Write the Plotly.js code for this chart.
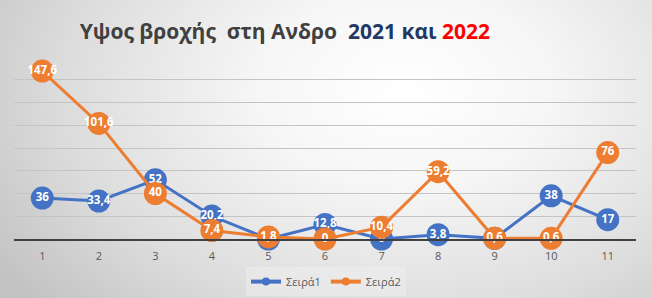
<!DOCTYPE html>
<html>
<head>
<meta charset="utf-8">
<script src="https://cdn.plot.ly/plotly-3.0.1.min.js"></script>
<style>
html,body{margin:0;padding:0;}
#chart{width:652px;height:298px;background:radial-gradient(ellipse 75% 110% at 62% 30%, #ffffff 0%, #f6f6f6 30%, #dcdcdc 70%, #c2c2c2 100%);}
</style>
</head>
<body>
<div id="chart"></div>
<script>
const categories = ["1","2","3","4","5","6","7","8","9","10","11"];
const xPos = [1,2,3,4,5,6,7,8,9,10,11];
const seriesNames = ["Σειρά1","Σειρά2"];
const series1 = [36, 33.4, 52, 20.2, 0, 12.8, 0, 3.8, 0.6, 38, 17];
const series2 = [147.6, 101.6, 40, 7.4, 1.8, 0, 10.4, 59.2, 0.6, 0.6, 76];
const colors = ["#4472C4", "#ED7D31"];

function fmt(v){ return String(v).replace('.', ','); }

const font = "'Open Sans', 'Noto Sans', sans-serif";

function mk(name, ys, color){
  return {
    type:'scatter', mode:'lines+markers+text', name:name, showlegend:false,
    x:xPos, y:ys, text:ys.map(fmt),
    textposition:'middle center',
    textfont:{color:'#ffffff', size:11.5, family:font, weight:'bold'},
    line:{color:color, width:3},
    marker:{color:color, size:23},
    cliponaxis:false
  };
}
function legendEntry(name, color){
  return {
    type:'scatter', mode:'lines+markers', name:name,
    x:[null], y:[null],
    line:{color:color, width:4},
    marker:{color:color, size:8}
  };
}

const data = [
  mk(seriesNames[0], series1, colors[0]),
  mk(seriesNames[1], series2, colors[1]),
  legendEntry(seriesNames[0], colors[0]),
  legendEntry(seriesNames[1], colors[1])
];

const layout = {
  width:652, height:298,
  paper_bgcolor:'rgba(0,0,0,0)', plot_bgcolor:'rgba(0,0,0,0)',
  margin:{l:14, r:16, t:57, b:59},
  font:{family:font, color:'#595959'},
  title:{
    text:'<span style="color:#404040">Υψος βροχής&nbsp; στη Ανδρο&nbsp; </span><span style="color:#1F3864">2021 και </span><span style="color:#FF0000">2022</span>',
    font:{family:font, size:21, weight:'bold'},
    xref:'container', x:0.437, xanchor:'center',
    yref:'container', y:0.895, yanchor:'middle'
  },
  xaxis:{
    range:[0.5, 11.5], tickvals:xPos, ticktext:categories,
    showgrid:false, zeroline:false,
    showline:true, linecolor:'#404040', linewidth:2,
    ticks:'', tickfont:{size:11, color:'#595959'}, ticklabelstandoff:6
  },
  yaxis:{
    range:[0,160], dtick:20, showticklabels:false,
    gridcolor:'#c4c4c4', gridwidth:1, zeroline:false, showline:false, ticks:''
  },
  showlegend:true,
  legend:{
    orientation:'h', x:0.5, xanchor:'center', xref:'container',
    y:0.055, yref:'container', yanchor:'middle',
    bgcolor:'rgba(240,240,240,0.5)', font:{size:11, color:'#595959'},
    itemwidth:30
  }
};

Plotly.newPlot('chart', data, layout, {displayModeBar:false, staticPlot:true});
</script>
</body>
</html>
